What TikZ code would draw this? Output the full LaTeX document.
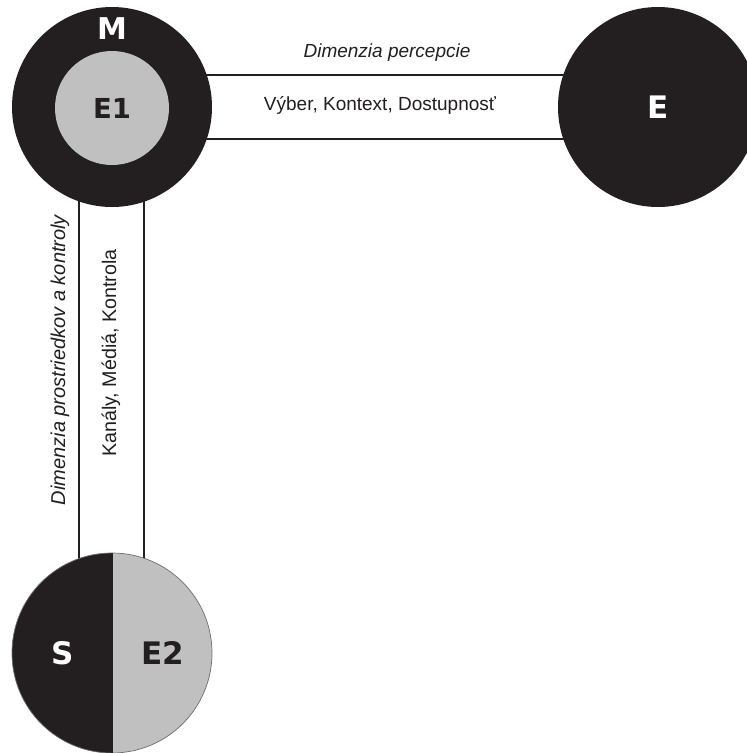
\documentclass[tikz,border=0pt]{standalone}
\usepackage{fontspec}
\setmainfont{Liberation Sans}
\newfontfamily\heavyfont{DejaVu Sans}
\usetikzlibrary{backgrounds,calc}
\definecolor{ink}{HTML}{231F20}
\definecolor{lgray}{HTML}{C0C0C0}
\definecolor{rimgray}{HTML}{6E6E6E}
\tikzset{
  bigdisc/.style={circle,fill=ink,minimum size=200pt,inner sep=0pt},
  graydisc/.style={circle,fill=lgray,minimum size=114pt,inner sep=0pt},
  hollowdisc/.style={circle,minimum size=200pt,inner sep=0pt},
  heavy/.style={font=\heavyfont\bfseries\fontsize{#1}{#1}\selectfont,inner sep=0pt},
  band/.style={line width=1.9pt,draw=ink},
  dimlabel/.style={font=\fontsize{#1}{#1}\selectfont\itshape,text=ink},
  itemlabel/.style={font=\fontsize{#1}{#1}\selectfont,text=ink}
}
\begin{document}
\begin{tikzpicture}[x=1pt,y=-1pt]
\clip (0,0) rectangle (747,753);
\useasboundingbox (0,0) rectangle (747,753);
% circles
\node[bigdisc] (M) at (112,107) {};
\node[graydisc,heavy=27.5,text=ink] (E1) at (112,108) {E1};
\node[heavy=30,text=white] (Mlab) at (112,29) {M};
\node[bigdisc,heavy=31,text=white] (E) at (658,107) {E};
\node[hollowdisc] (SE) at (112,653) {};
\fill[lgray] (SE.center) circle[radius=100pt];
\begin{scope}
  \clip ($(SE.center)+(-102,-102)$) rectangle ($(SE.center)+(0,102)$);
  \fill[ink] (SE.center) circle[radius=100pt];
\end{scope}
\draw[rimgray,line width=0.7pt] (SE.center) circle[radius=100pt];
\fill[ink] ($(SE.center)+(-0.8,-100)$) rectangle ($(SE.center)+(0.8,100)$);
\node[heavy=31,text=white] (S) at (63,653) {S};
\node[heavy=31,text=ink] (E2) at (163,653) {E2};
% labels
\node[dimlabel=19] (dp) at (387,53) {Dimenzia percepcie};
\node[itemlabel=19] (vk) at (380,105) {Výber, Kontext, Dostupnosť};
\node[dimlabel=20,rotate=90] (dk) at (60,360) {Dimenzia prostriedkov a kontroly};
\node[itemlabel=19.7,rotate=90] (km) at (111,353) {Kanály, Médiá, Kontrola};
% bands behind the circles
\begin{scope}[on background layer]
  \fill[white] (0,0) rectangle (747,753);
  \draw[band] ($(M.center)+(0,-32)$) -- ($(E.center)+(0,-32)$);
  \draw[band] ($(M.center)+(0,32)$) -- ($(E.center)+(0,32)$);
  \draw[band] ($(M.center)+(-33,0)$) -- ($(SE.center)+(-33,0)$);
  \draw[band] ($(M.center)+(32,0)$) -- ($(SE.center)+(32,0)$);
\end{scope}
\end{tikzpicture}
\end{document}
